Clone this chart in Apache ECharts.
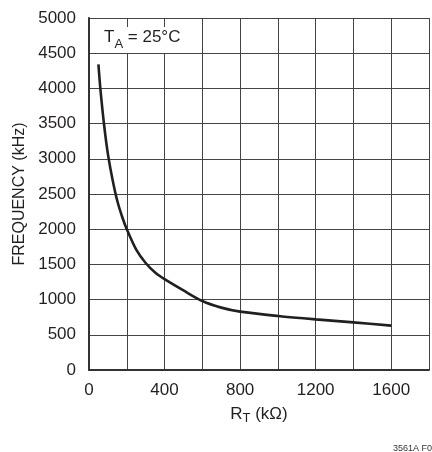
<!DOCTYPE html>
<html>
<head>
<meta charset="utf-8">
<script src="https://cdn.jsdelivr.net/npm/echarts@6/dist/echarts.min.js"></script>
<style>
html,body{margin:0;padding:0;background:#fff;}
#chart{width:432px;height:452px;}
</style>
</head>
<body>
<div id="chart"></div>
<script>
// Resistance R_T (kΩ)
var rtValues = [50, 60, 80, 100, 125, 150, 175, 200, 250, 300, 350, 400, 500, 600, 700, 800, 1000, 1200, 1400, 1600];
// Frequency (kHz)
var freqValues = [4340, 4000, 3480, 3070, 2700, 2400, 2180, 2000, 1710, 1520, 1385, 1290, 1130, 980, 886, 829, 767, 719, 677, 630];
var xTickLabels = [0, 400, 800, 1200, 1600];
var yTickLabels = [0, 500, 1000, 1500, 2000, 2500, 3000, 3500, 4000, 4500, 5000];

var points = rtValues.map(function (x, i) { return [x, freqValues[i]]; });
var FONT = '"Liberation Sans", Arial, sans-serif';
var TXT = '#231f20';

var chart = echarts.init(document.getElementById('chart'), null, {renderer: 'canvas'});
chart.setOption({
  animation: false,
  backgroundColor: '#fff',
  grid: {left: 89, top: 18, width: 352, height: 352, containLabel: false},
  title: {
    text: '{m|T}{s|A}{m| = 25°C}',
    left: 101, top: 24,
    backgroundColor: '#fff',
    padding: [2, 3, 2, 3],
    textStyle: {
      fontWeight: 'normal',
      rich: {
        m: {fontFamily: FONT, fontSize: 17, fontWeight: 'normal', color: TXT, verticalAlign: 'bottom', lineHeight: 20},
        s: {fontFamily: FONT, fontSize: 13, fontWeight: 'normal', color: TXT, verticalAlign: 'bottom', lineHeight: 14, padding: [0, 0, -5, 0]}
      }
    }
  },
  graphic: [{
    type: 'text', left: 393, top: 444,
    style: {text: '3561A F0', fontFamily: FONT, fontSize: 9, fill: '#333'}
  }],
  xAxis: {
    type: 'value', min: 0, max: 1800, interval: 200,
    name: '{m|R}{s|T}{m| (kΩ)}', nameLocation: 'middle', nameGap: 36,
    nameTextStyle: {
      rich: {
        m: {fontFamily: FONT, fontSize: 17, color: TXT},
        s: {fontFamily: FONT, fontSize: 13, color: TXT, padding: [0, 0, -8, 0]}
      }
    },
    axisLine: {show: true, lineStyle: {color: '#333', width: 2}},
    axisTick: {show: false},
    axisLabel: {
      margin: 12, fontFamily: FONT, fontSize: 17, color: TXT,
      formatter: function (v) { return xTickLabels.indexOf(v) >= 0 ? String(v) : ''; }
    },
    splitLine: {show: true, lineStyle: {color: '#444', width: 1}}
  },
  yAxis: {
    type: 'value', min: 0, max: 5000, interval: 500,
    name: 'FREQUENCY (kHz)', nameLocation: 'middle', nameGap: 57, nameRotate: 90,
    nameTextStyle: {fontFamily: FONT, fontSize: 16, color: TXT},
    axisLine: {show: true, lineStyle: {color: '#333', width: 2}},
    axisTick: {show: false},
    axisLabel: {
      margin: 13, fontFamily: FONT, fontSize: 17, color: TXT,
      formatter: function (v) { return yTickLabels.indexOf(v) >= 0 ? String(v) : ''; }
    },
    splitLine: {show: true, lineStyle: {color: '#444', width: 1}}
  },
  series: [{
    type: 'line',
    data: points,
    smooth: 0.3,
    showSymbol: false,
    lineStyle: {color: '#231f20', width: 2.6},
    z: 5
  }]
});
</script>
</body>
</html>
